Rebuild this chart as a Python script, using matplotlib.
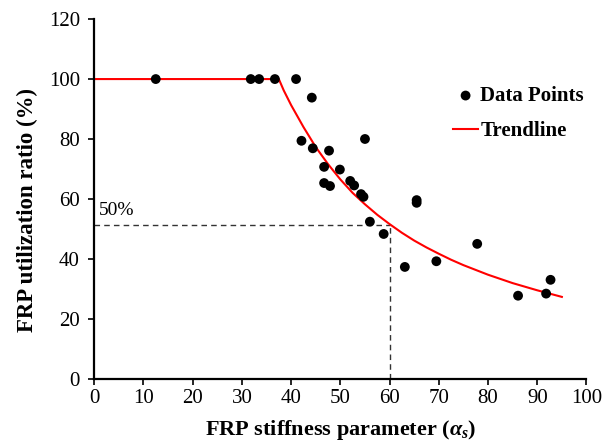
import matplotlib
matplotlib.use("Agg")
import matplotlib.pyplot as plt

plt.rcParams['font.family'] = ['Liberation Serif', 'DejaVu Serif']
plt.rcParams['mathtext.fontset'] = 'custom'
plt.rcParams['mathtext.rm'] = 'Liberation Serif:bold'
plt.rcParams['mathtext.it'] = 'Liberation Serif:italic:bold'
plt.rcParams['mathtext.bf'] = 'Liberation Serif:bold'

# Data points
data_x = [12.5, 31.8, 33.5, 36.7, 41.0, 44.2, 42.1, 44.4, 47.7, 46.7, 46.7, 47.9,
          49.9, 52.0, 52.8, 54.2, 54.7, 55.0, 56.0, 58.8, 63.1, 65.5, 65.5, 69.5,
          77.8, 86.1, 91.8, 92.7]
data_y = [100, 100, 100, 100, 100, 93.8, 79.4, 76.9, 76.1, 70.7, 65.3, 64.3,
          69.8, 66.0, 64.5, 61.6, 60.7, 80.0, 52.4, 48.3, 37.3, 59.6, 58.7, 39.2,
          45.0, 27.7, 28.4, 33.0]

# Trendline
trend_x = [0, 37.5, 38.5, 40, 42.5, 45, 47.5, 50, 52.5, 55, 57.5, 60, 62.5, 65,
           67.5, 70, 72.5, 75, 77.5, 80, 82.5, 85, 87.5, 90, 92.5, 95]
trend_y = [100, 100, 96.2, 91.3, 84.0, 77.3, 71.6, 66.5, 62.0, 58.2, 54.7, 51.6,
           48.7, 46.1, 43.8, 41.7, 39.7, 37.9, 36.3, 34.7, 33.3, 31.9, 30.7, 29.5,
           28.4, 27.3]

# Reference (dashed) lines
ref_x = 60
ref_y = 51.3
ref_label = "50%"

xticks = list(range(0, 101, 10))
yticks = list(range(0, 121, 20))

fig = plt.figure(figsize=(6.08, 4.45), dpi=100)
ax = fig.add_axes([0.155, 0.149, 0.8096, 0.808])

ax.plot([0, ref_x], [ref_y, ref_y], color='#333333', lw=1, ls=(0, (4, 3)), zorder=1)
ax.plot([ref_x, ref_x], [0, ref_y], color='#333333', lw=1, ls=(0, (4, 3)), zorder=1)
ax.text(1.0, ref_y + 2.1, ref_label, fontsize=14, ha='left', va='bottom')

ax.plot(trend_x, trend_y, color='red', lw=1.5, zorder=2, label='Trendline')
ax.scatter(data_x, data_y, s=50, color='black', zorder=3, label='Data Points',
           edgecolors='none')

ax.set_xlim(0, 100)
ax.set_ylim(0, 120)
ax.set_xticks(xticks)
ax.set_yticks(yticks)
ax.tick_params(labelsize=15, direction='out', length=4.3, width=1.2)
ax.tick_params(axis='y', pad=6)
ax.tick_params(axis='x', pad=3)
for s in ['top', 'right']:
    ax.spines[s].set_visible(False)
for s in ['left', 'bottom']:
    ax.spines[s].set_linewidth(1.6)

ax.set_xlabel(r'FRP stiffness parameter ($\alpha_{s}$)', fontsize=16, fontweight='bold', labelpad=7.5)
ax.set_ylabel('FRP utilization ratio (%)', fontsize=16.5, fontweight='bold')
ax.yaxis.set_label_coords(-0.114, 0.469)

h, l = ax.get_legend_handles_labels()
ax.legend(h[::-1], l[::-1], loc='upper left', bbox_to_anchor=(0.729, 0.814), frameon=False,
          prop={'weight': 'bold', 'size': 15}, handlelength=1.2, handletextpad=0.1,
          labelspacing=0.72, borderaxespad=0, borderpad=0)

fig.savefig('out.png', dpi=100)
